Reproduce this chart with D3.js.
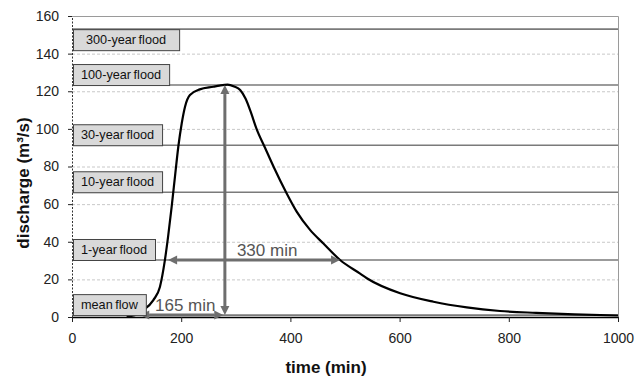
<!DOCTYPE html>
<html>
<head>
<meta charset="utf-8">
<script src="https://cdn.jsdelivr.net/npm/d3@7"></script>
<style>
body { margin: 0; background: #fff; }
text { font-family: "Liberation Sans", Arial, sans-serif; }
</style>
</head>
<body>
<svg width="643" height="380"></svg>
<script>
// hydrograph
var timeMin   = [100, 115, 130, 149, 161, 170, 176, 182.5, 188.6, 194.7, 201, 207, 216, 234, 259, 270, 285, 297, 308, 318, 328, 338, 353.5, 369, 393, 411.5, 436, 460, 491, 527, 540, 601, 662, 723, 784, 850, 920, 1000];
var discharge = [0.3, 1, 3.5, 9, 16, 30, 42.7, 58.6, 74.6, 90.5, 103, 111.8, 118, 121, 122.4, 123, 123.5, 122.5, 120.7, 116, 108.5, 100, 90, 80, 65.8, 56, 46.3, 39.2, 30.3, 23.2, 20.6, 12.6, 8.1, 5.1, 3.2, 2.2, 1.4, 0.8];

var floodNames  = ["mean flow", "1-year flood", "10-year flood", "30-year flood", "100-year flood", "300-year flood"];
var floodLevels = [1, 30.3, 66.3, 91.3, 123.3, 153];

var xTicks = [0, 200, 400, 600, 800, 1000];
var yTicks = [0, 20, 40, 60, 80, 100, 120, 140, 160];

// annotation arrows: [t1, q1, t2, q2], label, label start (min)
var spanEnds   = [[125, 1, 277, 1], [176, 30.3, 491, 30.3], [280, 123.3, 280, 1]];
var spanLabels = ["165 min", "330 min", ""];
var spanLabelT = [152, 302, 0];

var svg = d3.select("svg"),
    margin = {top: 16, right: 25, bottom: 63, left: 72},
    width = +svg.attr("width") - margin.left - margin.right,
    height = +svg.attr("height") - margin.top - margin.bottom,
    g = svg.append("g").attr("transform", "translate(" + margin.left + "," + margin.top + ")");

var x = d3.scaleLinear().domain([0, 1000]).range([0, width]);
var y = d3.scaleLinear().domain([0, 160]).range([height, 0]);

// grid
g.append("g").selectAll("line")
    .data(yTicks.filter(function(d) { return d > 0 && d < 160; }))
    .enter().append("line")
    .attr("x1", 0).attr("x2", width)
    .attr("y1", function(d) { return y(d) + 0.5; })
    .attr("y2", function(d) { return y(d) + 0.5; })
    .attr("stroke", "#c8c8c8")
    .attr("stroke-dasharray", "3,2");

// plot frame top / right
g.append("path")
    .attr("d", "M0," + (y(160) + 0.5) + "H" + (width + 0.5) + "V" + height)
    .attr("fill", "none")
    .attr("stroke", "#9a9a9a");

// flood levels
g.append("g").selectAll("line")
    .data(floodLevels)
    .enter().append("line")
    .attr("x1", 0).attr("x2", width)
    .attr("y1", function(d) { return y(d); })
    .attr("y2", function(d) { return y(d); })
    .attr("stroke", "#7a7a7a")
    .attr("stroke-width", 1.6);

// axes
var xAxis = g.append("g")
    .attr("transform", "translate(0," + height + ")")
    .call(d3.axisBottom(x).tickValues(xTicks).tickFormat(d3.format("d")).tickSize(5).tickSizeOuter(0).tickPadding(11));
var yAxis = g.append("g")
    .call(d3.axisLeft(y).tickValues(yTicks).tickFormat(d3.format("d")).tickSize(4).tickSizeOuter(0).tickPadding(9));
[xAxis, yAxis].forEach(function(a) {
  a.selectAll("text").attr("font-size", 14).attr("fill", "#222").attr("font-family", "Liberation Sans, Arial, sans-serif");
  a.selectAll("line").attr("stroke", "#222");
});
xAxis.select(".domain").attr("stroke", "#000").attr("stroke-width", 1.5);
yAxis.select(".domain").attr("stroke", "#333").attr("stroke-dasharray", "2,1.5");

// hydrograph
var pts = timeMin.map(function(t, i) { return [t, discharge[i]]; });
g.append("path")
    .datum(pts)
    .attr("fill", "none")
    .attr("stroke", "#000")
    .attr("stroke-width", 2.2)
    .attr("d", d3.line()
      .x(function(d) { return x(d[0]); })
      .y(function(d) { return y(d[1]); })
      .curve(d3.curveMonotoneX));

// arrows
var arrowCol = "#6e6e6e", headL = 9, headW = 4.5;
spanEnds.forEach(function(s, i) {
  var x1 = x(s[0]), y1 = y(s[1]), x2 = x(s[2]), y2 = y(s[3]);
  var len = Math.hypot(x2 - x1, y2 - y1), ux = (x2 - x1) / len, uy = (y2 - y1) / len;
  g.append("line")
      .attr("x1", x1 + ux * headL).attr("y1", y1 + uy * headL)
      .attr("x2", x2 - ux * headL).attr("y2", y2 - uy * headL)
      .attr("stroke", arrowCol).attr("stroke-width", 3);
  [[x1, y1, -ux, -uy], [x2, y2, ux, uy]].forEach(function(h) {
    var bx = h[0] - h[2] * headL, by = h[1] - h[3] * headL;
    g.append("path")
        .attr("d", "M" + h[0] + "," + h[1] +
          "L" + (bx - h[3] * headW) + "," + (by + h[2] * headW) +
          "L" + (bx + h[3] * headW) + "," + (by - h[2] * headW) + "Z")
        .attr("fill", arrowCol);
  });
  if (spanLabels[i]) {
    g.append("text")
        .attr("x", x(spanLabelT[i]))
        .attr("y", y1 - 4)
        .attr("font-size", 17)
        .attr("fill", "#555")
        .text(spanLabels[i]);
  }
});

// flood labels in boxes
var boxH = 21;
floodNames.forEach(function(name, i) {
  var ly = y(floodLevels[i]);
  var top = ly - boxH < 0 ? ly : ly - boxH;   // no room above the line near the top
  var lab = g.append("g").attr("transform", "translate(1," + top + ")");
  var pad = top === ly ? 13 : 8;
  var txt = lab.append("text")
      .attr("x", pad)
      .attr("y", boxH / 2)
      .attr("dy", "0.35em")
      .attr("font-size", 12.7)
      .attr("word-spacing", -1)
      .attr("fill", "#111")
      .text(name);
  var w = txt.node().getComputedTextLength() + pad * 2;
  lab.insert("rect", "text")
      .attr("x", 0.5).attr("y", 0.5)
      .attr("width", w).attr("height", boxH)
      .attr("fill", "#d9d9d9")
      .attr("stroke", "#444");
});

// axis titles
svg.append("text")
    .attr("transform", "translate(29,183) rotate(-90)")
    .attr("text-anchor", "middle")
    .attr("font-size", 17)
    .attr("font-weight", "bold")
    .attr("fill", "#111")
    .text("discharge (m³/s)");
svg.append("text")
    .attr("x", 326)
    .attr("y", 373)
    .attr("text-anchor", "middle")
    .attr("font-size", 17)
    .attr("font-weight", "bold")
    .attr("fill", "#111")
    .text("time (min)");
</script>
</body>
</html>
